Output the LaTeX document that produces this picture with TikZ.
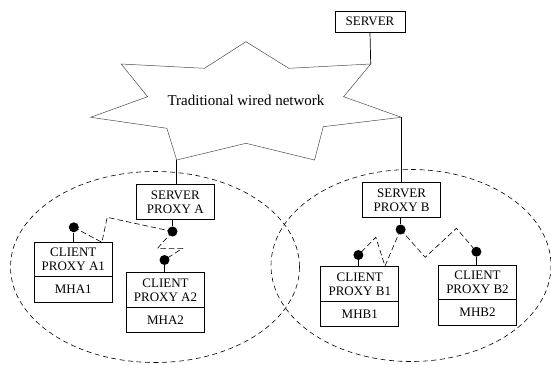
\documentclass[tikz,border=0pt]{standalone}
\usepackage{fontspec}
\setmainfont{Liberation Serif}
\usetikzlibrary{positioning}
\tikzset{
  box/.style={draw, line width=0.7pt, inner sep=0pt, outer sep=0pt, align=center,
    font=\fontsize{13}{14}\selectfont},
  proxybox/.style={box, minimum width=78pt, minimum height=34.5pt},
  mhbox/.style={box, minimum width=78pt, minimum height=25.5pt},
  cell/.style={line width=0.6pt, dash pattern=on 5pt off 3.5pt},
  radio/.style={line width=0.6pt, dash pattern=on 5.5pt off 3pt},
  ant/.style={circle, fill, inner sep=0pt, minimum size=10pt},
  wire/.style={line width=0.7pt}
}

\begin{document}
\begin{tikzpicture}[x=1pt, y=-1pt]
\useasboundingbox (0,0) rectangle (551,364);

% the two cells
\draw[cell] (155,267) ellipse [x radius=144.5, y radius=95.5];
\draw[cell] (411,265.5) ellipse [x radius=140, y radius=96];

% wired network
\draw[gray!60!black, line width=0.5pt] (246,41.7) -- (204.5,68.3) -- (121.2,64) -- (147.6,96.7)
  -- (90.7,117.3) -- (166.9,128.3) -- (176.7,160) coordinate (spkA) -- (246,143.3)
  -- (314.5,160) -- (323.3,126.7) -- (401.3,117.3) coordinate (spkB) -- (343.6,96.7)
  -- (370.7,64) coordinate (spkS) -- (288.8,68.3) -- cycle;
\node[font=\fontsize{15}{16}\selectfont] (net) at (246,100) {Traditional wired network};

\node[box, minimum width=70pt, minimum height=21pt] (srv) at (370,21.5) {SERVER};
\node[proxybox] (spa) at (175.3,201.8) {SERVER\\PROXY A};
\node[proxybox] (spb) at (401.6,200) {SERVER\\PROXY B};

\node[proxybox] (ca1) at (73.3,259.5) {CLIENT\\PROXY A1};
\node[mhbox, below=0pt of ca1] (mha1) {MHA1};
\node[proxybox] (ca2) at (165.5,290) {CLIENT\\PROXY A2};
\node[mhbox, below=0pt of ca2] (mha2) {MHA2};
\node[proxybox] (cb1) at (359.8,283.9) {CLIENT\\PROXY B1};
\node[mhbox, below=0pt of cb1] (mhb1) {MHB1};
\node[proxybox] (cb2) at (477.5,282.5) {CLIENT\\PROXY B2};
\node[mhbox, below=0pt of cb2] (mhb2) {MHB2};

\draw[wire] (srv.south) -- (spkS);
\draw[wire] (spkA) -- (spkA |- spa.north);
\draw[wire] (spkB) -- (spkB |- spb.north);

% antennas
\node[ant] (da1) at (73.8,227.3) {};
\node[ant] (dsa) at (172.5,231.5) {};
\node[ant] (da2) at (164.5,260) {};
\node[ant] (dsb) at (400.6,229.5) {};
\node[ant] (db1) at (358.4,255) {};
\node[ant] (db2) at (476.4,251.7) {};
\draw[wire] (da1) -- (da1 |- ca1.north);
\draw[wire] (dsa) -- (dsa |- spa.south);
\draw[wire] (da2) -- (da2 |- ca2.north);
\draw[wire] (dsb) -- (dsb |- spb.south);
\draw[wire] (db1) -- (db1 |- cb1.north);
\draw[wire] (db2) -- (db2 |- cb2.north);

% radio links
\draw[radio] (da1.center) -- (101.9,242.3) -- (107.2,217.3) -- (dsa.center);
\draw[radio] (dsa.center) -- (157.5,248.3) -- (182.5,248.3) -- (da2.center);
\draw[radio] (dsb.center) -- (385,266) -- (375.8,237.3) -- (db1.center);
\draw[radio] (dsb.center) -- (425.2,257.3) -- (456.4,228.3) -- (db2.center);
\end{tikzpicture}
\end{document}
